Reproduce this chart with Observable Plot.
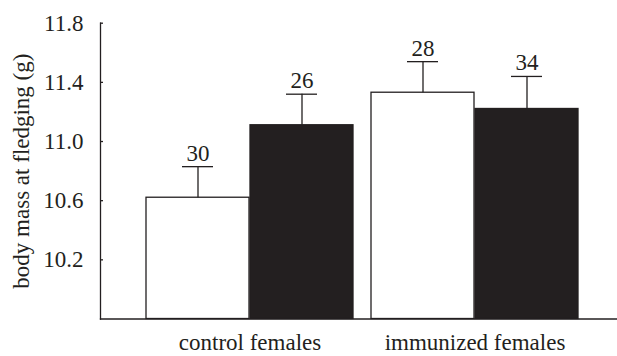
<!DOCTYPE html>
<html>
<head>
<meta charset="utf-8">
<script src="https://cdn.jsdelivr.net/npm/d3@7"></script>
<script src="https://cdn.jsdelivr.net/npm/@observablehq/plot@0.6"></script>
<style>
  html, body { margin: 0; padding: 0; background: #fff; }
  #chart svg { display: block; background: #fff; }
</style>
</head>
<body>
<div id="chart"></div>
<script>
// ---- data ----
const groups = ["control females", "immunized females"];
const openMeans = [10.62, 11.33];
const openSE = [0.21, 0.21];
const openN = [30, 28];
const filledMeans = [11.11, 11.22];
const filledSE = [0.21, 0.22];
const filledN = [26, 34];
const yTicks = [10.2, 10.6, 11.0, 11.4, 11.8];
const yDomain = [9.8, 11.8];
const yLabel = "body mass at fledging (g)";

// ---- layout ----
const W = 617, H = 356;
const ink = "#231f20";
const half = 104;      // half of group band (one bar width)
const capHalf = 16;
const ff = "Times New Roman, Liberation Serif, DejaVu Serif, serif";
const fs = 23;

const open = groups.map((g, i) => ({group: g, mean: openMeans[i], top: openMeans[i] + openSE[i], n: openN[i], base: yDomain[0]}));
const filled = groups.map((g, i) => ({group: g, mean: filledMeans[i], top: filledMeans[i] + filledSE[i], n: filledN[i], base: yDomain[0]}));

const lw = 1.3;
const txt = {fill: ink, fontSize: fs, fontFamily: ff};
const chart = Plot.plot({
  width: W,
  height: H,
  marginLeft: 100,
  marginRight: 1,
  marginTop: 22.7,
  marginBottom: 37.5,
  x: {type: "band", domain: groups, paddingInner: 0.07965, paddingOuter: 0.18142, align: 0.545},
  y: {domain: yDomain},
  marks: [
    Plot.barY(open, {x: "group", y1: "base", y2: "mean", insetRight: half, fill: "#fff", stroke: ink, strokeWidth: lw}),
    Plot.barY(filled, {x: "group", y1: "base", y2: "mean", insetLeft: half, fill: ink, stroke: ink, strokeWidth: lw}),
    Plot.ruleX(open, {x: "group", y1: "mean", y2: "top", dx: -half / 2, stroke: ink, strokeWidth: lw}),
    Plot.ruleX(filled, {x: "group", y1: "mean", y2: "top", dx: half / 2, stroke: ink, strokeWidth: lw}),
    Plot.tickY(open, {x: "group", y: "top", insetLeft: half / 2 - capHalf, insetRight: half * 1.5 - capHalf, stroke: ink, strokeWidth: lw}),
    Plot.tickY(filled, {x: "group", y: "top", insetLeft: half * 1.5 - capHalf, insetRight: half / 2 - capHalf, stroke: ink, strokeWidth: lw}),
    Plot.text(open, {x: "group", y: "top", text: "n", dx: -half / 2, dy: -6, lineAnchor: "bottom", ...txt}),
    Plot.text(filled, {x: "group", y: "top", text: "n", dx: half / 2, dy: -6, lineAnchor: "bottom", ...txt}),
    Plot.frame({anchor: "left", stroke: ink, strokeWidth: lw}),
    Plot.frame({anchor: "bottom", stroke: ink, strokeWidth: lw}),
    Plot.axisY({ticks: yTicks, tickFormat: d => d.toFixed(1), tickSize: -3, tickPadding: 20, label: null, stroke: ink, strokeWidth: lw, ...txt}),
    Plot.axisX({tickSize: 0, tickPadding: 15, label: null, ...txt}),
    Plot.text([yLabel], {frameAnchor: "left", textAnchor: "middle", rotate: -90, dx: -79, ...txt})
  ]
});
chart.querySelectorAll("text").forEach(t => { t.setAttribute("font-family", ff); t.style.fontFamily = ff; t.setAttribute("font-size", fs); });
document.getElementById("chart").appendChild(chart);
</script>
</body>
</html>
